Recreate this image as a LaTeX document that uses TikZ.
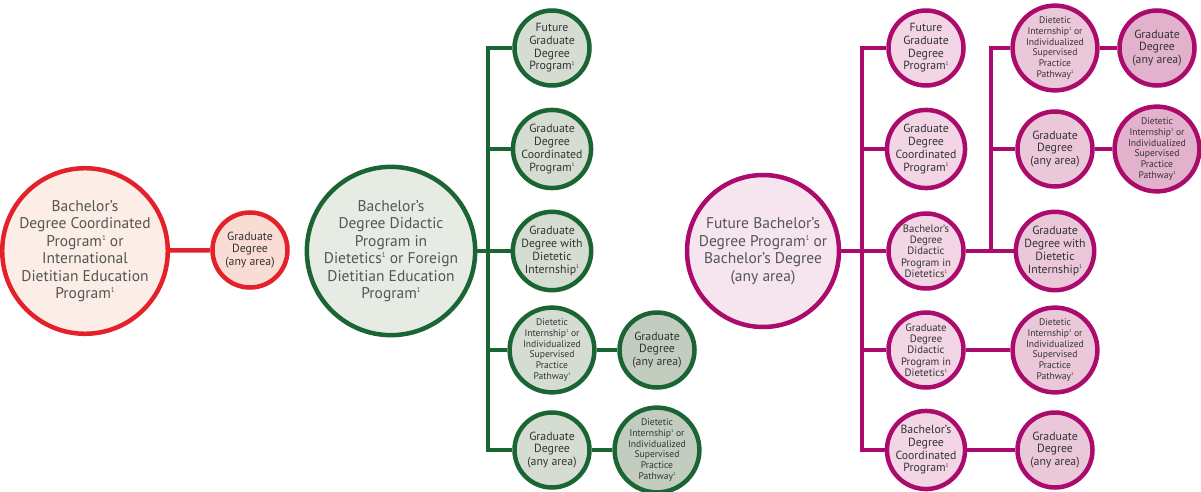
\documentclass[tikz,border=0pt]{standalone}
\usepackage{fontspec}
\setmainfont{PT Sans}
\usetikzlibrary{backgrounds}
\definecolor{rline}{HTML}{E4202A}
\definecolor{rbig}{HTML}{FCEDE6}
\definecolor{rsmall}{HTML}{F9DCD3}
\definecolor{gline}{HTML}{1B6535}
\definecolor{gbig}{HTML}{E6ECE4}
\definecolor{gone}{HTML}{D5DDD3}
\definecolor{gtwo}{HTML}{C2CDC0}
\definecolor{mline}{HTML}{AC0B6E}
\definecolor{mbig}{HTML}{F6E5EE}
\definecolor{mone}{HTML}{F2D6E5}
\definecolor{mtwo}{HTML}{EBC7DA}
\definecolor{mthree}{HTML}{E2B1CB}
\definecolor{txtbig}{HTML}{555555}
\definecolor{txtsmall}{HTML}{333333}
\newcommand\fone{\raisebox{0.75ex}{\scalebox{0.45}{1}}}
\tikzset{
  circ/.style={circle, line width=4.5pt, align=center, inner sep=0pt},
  bigc/.style={circ, minimum size=152pt, text=txtbig, font=\fontsize{15.5}{17.5}\selectfont},
  smallc/.style={circ, minimum size=75pt, text=txtsmall, font=\fontsize{11.8}{12.7}\selectfont},
  midtxt/.style={font=\fontsize{10.7}{11.3}\selectfont},
  tinytxt/.style={font=\fontsize{9.6}{10.7}\selectfont},
  red/.style={draw=rline},
  grn/.style={draw=gline},
  mag/.style={draw=mline},
  conn/.style={line width=4.5pt, line join=miter},
}
\begin{document}
\begin{tikzpicture}[x=1pt, y=-1pt]
\useasboundingbox (0,0) rectangle (1201,492);
% red
\node[bigc, red, fill=rbig] (rb) at (85,251) {Bachelor's\\Degree Coordinated\\Program\fone{} or\\International\\Dietitian Education\\Program\fone};
\node[smallc, red, fill=rsmall] (rs) at (250,250) {Graduate\\Degree\\(any area)};
% green
\node[bigc, grn, fill=gbig] (gb) at (391,251) {Bachelor's\\Degree Didactic\\Program in\\Dietetics\fone{} or Foreign\\Dietitian Education\\Program\fone};
\node[smallc, grn, fill=gone] (g1) at (552,48) {Future\\Graduate\\Degree\\Program\fone};
\node[smallc, grn, fill=gone] (g2) at (552,149) {Graduate\\Degree\\Coordinated\\Program\fone};
\node[smallc, grn, fill=gone] (g3) at (552,251) {Graduate\\Degree with\\Dietetic\\Internship\fone};
\node[smallc, grn, fill=gone, tinytxt] (g4) at (552,350) {Dietetic\\Internship\fone{} or\\Individualized\\Supervised\\Practice\\Pathway\fone};
\node[smallc, grn, fill=gone] (g5) at (552,450) {Graduate\\Degree\\(any area)};
\node[smallc, grn, fill=gtwo] (h4) at (657,350) {Graduate\\Degree\\(any area)};
\node[smallc, grn, fill=gtwo, tinytxt] (h5) at (657,450) {Dietetic\\Internship\fone{} or\\Individualized\\Supervised\\Practice\\Pathway\fone};
\coordinate (gt) at (488,48);
\coordinate (gtb) at (488,450);
% magenta
\node[bigc, mag, fill=mbig] (mb) at (763,251) {Future Bachelor's\\Degree Program\fone{} or\\Bachelor's Degree\\(any area)};
\node[smallc, mag, fill=mone] (m1) at (926,48) {Future\\Graduate\\Degree\\Program\fone};
\node[smallc, mag, fill=mone] (m2) at (926,149) {Graduate\\Degree\\Coordinated\\Program\fone};
\node[smallc, mag, fill=mone, midtxt] (m3) at (926,251) {Bachelor's\\Degree\\Didactic\\Program in\\Dietetics\fone};
\node[smallc, mag, fill=mone, midtxt] (m4) at (926,350) {Graduate\\Degree\\Didactic\\Program in\\Dietetics\fone};
\node[smallc, mag, fill=mone] (m5) at (926,450) {Bachelor's\\Degree\\Coordinated\\Program\fone};
\node[smallc, mag, fill=mtwo, tinytxt] (n1) at (1055,48) {Dietetic\\Internship\fone{} or\\Individualized\\Supervised\\Practice\\Pathway\fone};
\node[smallc, mag, fill=mtwo] (n2) at (1055,149) {Graduate\\Degree\\(any area)};
\node[smallc, mag, fill=mtwo] (n3) at (1055,251) {Graduate\\Degree with\\Dietetic\\Internship\fone};
\node[smallc, mag, fill=mtwo, tinytxt] (n4) at (1055,350) {Dietetic\\Internship\fone{} or\\Individualized\\Supervised\\Practice\\Pathway\fone};
\node[smallc, mag, fill=mtwo] (n5) at (1055,450) {Graduate\\Degree\\(any area)};
\node[smallc, mag, fill=mthree] (p1) at (1157,48) {Graduate\\Degree\\(any area)};
\node[smallc, mag, fill=mthree, tinytxt] (p2) at (1157,149) {Dietetic\\Internship\fone{} or\\Individualized\\Supervised\\Practice\\Pathway\fone};
\coordinate (mt) at (862,48);
\coordinate (mtb) at (862,450);
\coordinate (nt) at (991,48);
\begin{pgfonlayer}{background}
\draw[conn, rline] (rb) -- (rs);
\draw[conn, gline] (gb) -- (g3);
\draw[conn, gline] (g1) -- (gt) -- (gtb) -- (g5);
\draw[conn, gline] (g2) -- (g2 -| gt);
\draw[conn, gline] (g4) -- (g4 -| gt);
\draw[conn, gline] (g4) -- (h4);
\draw[conn, gline] (g5) -- (h5);
\draw[conn, mline] (mb) -- (m3);
\draw[conn, mline] (m1) -- (mt) -- (mtb) -- (m5);
\draw[conn, mline] (m2) -- (m2 -| mt);
\draw[conn, mline] (m4) -- (m4 -| mt);
\draw[conn, mline] (m3) -- (n3);
\draw[conn, mline] (n1) -- (nt) -- (m3 -| nt);
\draw[conn, mline] (n2) -- (n2 -| nt);
\draw[conn, mline] (m4) -- (n4);
\draw[conn, mline] (m5) -- (n5);
\draw[conn, mline] (n1) -- (p1);
\draw[conn, mline] (n2) -- (p2);
\end{pgfonlayer}
\end{tikzpicture}
\end{document}
